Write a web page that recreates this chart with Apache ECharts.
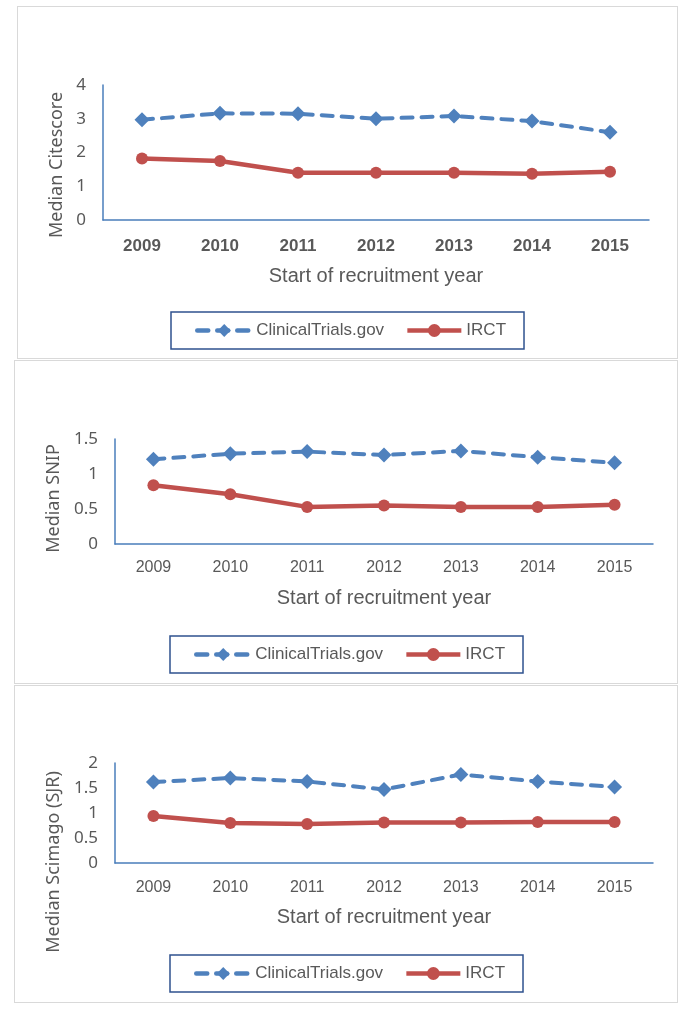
<!DOCTYPE html>
<html><head><meta charset="utf-8">
<script src="https://cdn.jsdelivr.net/npm/echarts@6/dist/echarts.min.js"></script>
<style>
body{margin:0;background:#fff;width:692px;height:1022px;position:relative;overflow:hidden}
.p{position:absolute;outline:1.5px solid #d9d9d9;background:#fff}
</style></head><body>
<div id="c1" class="p" style="left:18px;top:7px;width:659px;height:351px"></div>
<div id="c2" class="p" style="left:15px;top:361px;width:662px;height:322px"></div>
<div id="c3" class="p" style="left:15px;top:686px;width:662px;height:316px"></div>
<script>
const years = ['2009','2010','2011','2012','2013','2014','2015'];
const seriesNames = ['ClinicalTrials.gov','IRCT'];
const citescoreCT = [2.97, 3.16, 3.15, 3.0, 3.08, 2.93, 2.6];
const citescoreIRCT = [1.82, 1.75, 1.40, 1.40, 1.40, 1.37, 1.43];
const snipCT = [1.21, 1.29, 1.32, 1.27, 1.33, 1.24, 1.16];
const snipIRCT = [0.84, 0.71, 0.53, 0.55, 0.53, 0.53, 0.56];
const sjrCT = [1.62, 1.70, 1.63, 1.47, 1.77, 1.63, 1.52];
const sjrIRCT = [0.94, 0.80, 0.78, 0.81, 0.81, 0.82, 0.82];

const TXT = '#595959';
const SANS = '"Liberation Sans", Arial, sans-serif';
const NOTO = '"Noto Sans", sans-serif';
const BLUE = '#4f81bd', RED = '#c0504d', AXIS = '#4a7ebb';

function makeOption(cfg){
  return {
    animation:false,
    textStyle:{fontFamily:SANS},
    grid:{left:cfg.grid[0], top:cfg.grid[1], width:cfg.grid[2], height:cfg.grid[3]},
    legend:{
      data:seriesNames, left:cfg.legend[0], top:cfg.legend[1],
      borderColor:'#2f528f', borderWidth:1.5, padding:[10,18,10,24], itemGap:21,
      itemWidth:54, itemHeight:16,
      lineStyle:{width:4.5},
      textStyle:{fontSize:17, color:TXT, fontFamily:SANS}
    },
    xAxis:{
      type:'category', data:years,
      axisLine:{lineStyle:{color:AXIS, width:1.5}},
      axisTick:{show:false},
      axisLabel:{color:TXT, fontSize:cfg.xBold?17:16, fontWeight:cfg.xBold?'bold':'normal', margin:cfg.xMargin, fontFamily:SANS},
      name:'Start of recruitment year', nameLocation:'middle', nameGap:cfg.xNameGap,
      nameTextStyle:{fontSize:20, color:TXT, fontFamily:SANS}
    },
    yAxis:{
      type:'value', min:0, max:cfg.yMax, interval:cfg.yInt,
      axisLine:{show:true, lineStyle:{color:AXIS, width:1.5}},
      axisTick:{show:false}, splitLine:{show:false},
      axisLabel:{color:TXT, fontSize:17, margin:17, fontFamily:NOTO},
      name:cfg.yName, nameLocation:'middle', nameGap:cfg.yNameGap, nameRotate:90,
      nameTextStyle:{fontSize:18, color:TXT, fontFamily:NOTO, padding:[0,cfg.yShift,0,0]}
    },
    series:[
      {name:seriesNames[0], type:'line', data:cfg.ct, symbol:'diamond', symbolSize:15,
       lineStyle:{color:BLUE, width:4, type:[11,9], cap:'round'}, itemStyle:{color:BLUE}},
      {name:seriesNames[1], type:'line', data:cfg.irct, symbol:'circle', symbolSize:12,
       lineStyle:{color:RED, width:4.5}, itemStyle:{color:RED}}
    ]
  };
}

echarts.init(document.getElementById('c1')).setOption(makeOption({
  grid:[85,78,546,135], legend:[153,305], xBold:true, xMargin:18, xNameGap:46,
  yMax:4, yInt:1, yName:'Median Citescore', yNameGap:35, yShift:25,
  ct:citescoreCT, irct:citescoreIRCT
}));
echarts.init(document.getElementById('c2')).setOption(makeOption({
  grid:[100,78,538,105], legend:[155,275], xBold:false, xMargin:16, xNameGap:44,
  yMax:1.5, yInt:0.5, yName:'Median SNIP', yNameGap:50, yShift:14,
  ct:snipCT, irct:snipIRCT
}));
echarts.init(document.getElementById('c3')).setOption(makeOption({
  grid:[100,77,538,100], legend:[155,269], xBold:false, xMargin:17, xNameGap:44,
  yMax:2, yInt:0.5, yName:'Median Scimago (SJR)', yNameGap:50, yShift:98,
  ct:sjrCT, irct:sjrIRCT
}));
</script>
</body></html>
